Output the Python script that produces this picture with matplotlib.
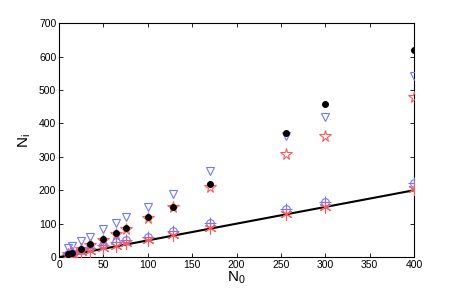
import matplotlib
matplotlib.use("Agg")
import matplotlib.pyplot as plt

plt.rcParams['font.family'] = ['Liberation Sans', 'DejaVu Sans']
plt.rcParams['mathtext.fontset'] = 'custom'
plt.rcParams['mathtext.rm'] = 'Liberation Sans'
plt.rcParams['mathtext.it'] = 'Liberation Sans'

N0 = [10, 14, 25, 35, 50, 64, 75, 100, 128, 170, 256, 300, 400]
black_dots = [9, 13, 25, 38, 53, 71, 86, 119, 151, 219, 372, 457, 621]
blue_tri = [26, 32, 47, 60, 83, 101, 120, 150, 190, 258, 362, 420, 541]
red_star = [8, 12, 24, 36, 51, 69, 84, 116, 149, 210, 307, 363, 478]
blue_circ = [9, 13, 21, 26, 36, 45, 51, 61, 79, 103, 144, 164, 221]
red_ast = [5, 9, 14, 19, 26, 33, 41, 50, 66, 87, 129, 149, 203]
line_x = [0, 400]
line_y = [0, 200]

xticks = [0, 50, 100, 150, 200, 250, 300, 350, 400]
yticks = [0, 100, 200, 300, 400, 500, 600, 700]

blue = '#6f78ff'
red = '#ff5a5a'

fig = plt.figure(figsize=(4.58, 3.0), dpi=100)
ax = fig.add_axes([0.129, 0.143, 0.775, 0.780])

ax.plot(line_x, line_y, color='black', lw=1.5, zorder=2)
ax.plot(N0, blue_tri, linestyle='none', marker='v', ms=6, mfc='none', mec=blue, mew=0.8, zorder=3)
ax.plot(N0, red_star, linestyle='none', marker='*', ms=8.5, mfc='none', mec=red, mew=0.8, zorder=3)
ax.plot(N0, black_dots, linestyle='none', marker='o', ms=4, color='black', zorder=5)
ax.plot(N0, blue_circ, linestyle='none', marker='o', ms=5.5, mfc='none', mec=blue, mew=0.8, zorder=3)
ax.plot(N0, blue_circ, linestyle='none', marker='+', ms=9, mec=blue, mew=0.8, zorder=3)
ax.plot(N0, red_ast, linestyle='none', marker=(6, 2, 0), ms=9, mec=red, mew=0.8, zorder=4)

ax.set_xlim(0, 400)
ax.set_ylim(0, 700)
ax.set_xticks(xticks)
ax.set_yticks(yticks)
ax.tick_params(direction='in', top=True, right=True, labelsize=7.5, length=3, width=0.6, pad=2)
for s in ax.spines.values():
    s.set_linewidth(0.8)

ax.set_xlabel('$\\mathregular{N_0}$', fontsize=11, labelpad=0)
ax.set_ylabel('$\\mathregular{N_i}$', fontsize=11, labelpad=4)

fig.savefig('out.png', dpi=100)
